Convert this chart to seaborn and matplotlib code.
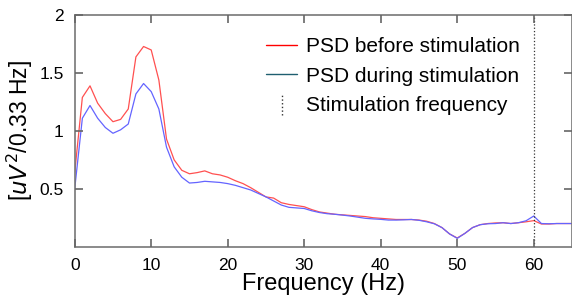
import numpy as np
import pandas as pd
import seaborn as sns
import matplotlib
matplotlib.use('Agg')
import matplotlib.pyplot as plt
from matplotlib.lines import Line2D
from matplotlib.legend_handler import HandlerBase

# Frequences (Hz) et PSD
freq = list(range(0, 66))
psd_before = [0.64, 1.29, 1.39, 1.24, 1.15, 1.08, 1.10, 1.19, 1.64, 1.73,
              1.70, 1.44, 0.93, 0.75, 0.66, 0.63, 0.64, 0.655, 0.63, 0.62,
              0.60, 0.57, 0.545, 0.51, 0.47, 0.43, 0.42, 0.38, 0.365, 0.355,
              0.345, 0.32, 0.30, 0.29, 0.28, 0.275, 0.27, 0.265, 0.26, 0.25,
              0.245, 0.24, 0.235, 0.235, 0.235, 0.23, 0.22, 0.20, 0.165, 0.11,
              0.075, 0.115, 0.165, 0.19, 0.20, 0.205, 0.207, 0.20, 0.207, 0.215,
              0.225, 0.196, 0.196, 0.20, 0.20, 0.20]
psd_during = [0.50, 1.11, 1.22, 1.11, 1.03, 0.98, 1.01, 1.06, 1.32, 1.41,
              1.34, 1.19, 0.86, 0.69, 0.60, 0.55, 0.555, 0.565, 0.56, 0.555,
              0.545, 0.53, 0.51, 0.49, 0.46, 0.43, 0.395, 0.36, 0.34, 0.335,
              0.33, 0.31, 0.295, 0.285, 0.28, 0.273, 0.265, 0.255, 0.245, 0.24,
              0.236, 0.23, 0.23, 0.232, 0.235, 0.228, 0.215, 0.198, 0.165, 0.11,
              0.072, 0.115, 0.165, 0.19, 0.198, 0.20, 0.207, 0.20, 0.207, 0.224,
              0.265, 0.20, 0.198, 0.20, 0.20, 0.20]
stim_freq = 60
labels = ['PSD before stimulation', 'PSD during stimulation', 'Stimulation frequency']
xticks = [0, 10, 20, 30, 40, 50, 60]
yticks = [0.5, 1, 1.5, 2]


# Symbole de legende : petit trait vertical en pointilles
class HandlerVLine(HandlerBase):
    def create_artists(self, legend, orig_handle, xdescent, ydescent,
                       width, height, fontsize, trans):
        x = width / 2 - xdescent
        line = Line2D([x, x], [-ydescent - 0.3 * height, height * 1.2 - ydescent],
                      color='#333333', linestyle=':', linewidth=1.0)
        line.set_transform(trans)
        return [line]


# Style type Matlab : cadre complet, graduations vers l'interieur
sns.set_theme(style='ticks', rc={
    'xtick.direction': 'in', 'ytick.direction': 'in',
    'xtick.top': True, 'ytick.right': True,
    'xtick.bottom': True, 'ytick.left': True,
    'xtick.major.size': 6, 'ytick.major.size': 6,
    'xtick.major.width': 1.2, 'ytick.major.width': 1.2,
    'xtick.color': '#666666', 'ytick.color': '#666666',
    'xtick.labelcolor': 'black', 'ytick.labelcolor': 'black',
    'xtick.labelsize': 12.5, 'ytick.labelsize': 12.5,
    'xtick.major.pad': 8, 'ytick.major.pad': 8,
    'axes.edgecolor': '#777777', 'axes.linewidth': 1.2,
    'axes.spines.top': True, 'axes.spines.right': True,
    'axes.axisbelow': False,
    'text.color': 'black', 'axes.labelcolor': 'black'})
plt.rcParams['font.family'] = ['Liberation Sans', 'DejaVu Sans']

df = pd.DataFrame({'freq': freq + freq,
                   'psd': psd_before + psd_during,
                   'cond': [labels[0]] * len(freq) + [labels[1]] * len(freq)})

fig = plt.figure(figsize=(5.72, 2.99), dpi=100)
ax = fig.add_axes([0.1306, 0.175, 0.8694, 0.774])

sns.lineplot(data=df, x='freq', y='psd', hue='cond',
             palette=['#ff5050', '#6464ff'], linewidth=0.9, legend=False, ax=ax)
ax.axvline(stim_freq, color='#333333', linestyle=':', linewidth=0.9)

ax.set_xlim(0, 65)
ax.set_ylim(0, 2)
ax.set_xticks(xticks)
ax.set_yticks(yticks)
ax.set_yticklabels(['0.5', '1', '1.5', '2'])
ax.minorticks_off()

ax.set_xlabel('Frequency (Hz)', fontsize=17, labelpad=0)
ax.set_ylabel(r'[$uV^2$/0.33 Hz]', fontsize=16.5, labelpad=3)

handles = [Line2D([], [], color='#ff0000', linewidth=1),
           Line2D([], [], color='#1f5f70', linewidth=1),
           Line2D([], [], color='#333333', linestyle=':')]
leg = ax.legend(handles, labels, loc='upper left', bbox_to_anchor=(0.385, 0.905),
                frameon=False, fontsize=15, handlelength=1.5, handletextpad=0.4,
                labelspacing=0.5, borderaxespad=0, borderpad=0,
                handler_map={handles[2]: HandlerVLine()})

fig.savefig('out.png', dpi=100)
